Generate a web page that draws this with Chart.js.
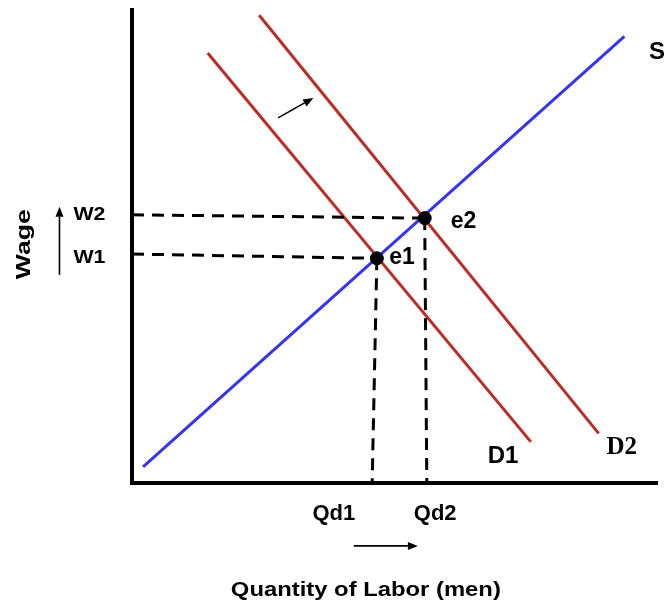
<!DOCTYPE html>
<html>
<head>
<meta charset="utf-8">
<script src="https://cdn.jsdelivr.net/npm/chart.js@4.4.0/dist/chart.umd.min.js"></script>
<style>
  html, body { margin: 0; padding: 0; background: #fff; }
  #wrap { width: 665px; height: 606px; }
</style>
</head>
<body>
<div id="wrap"><canvas id="labor"></canvas></div>
<script>
// curves, in chart units (0-100 on both axes)
const supplyX = [2.1, 93.7];
const supplyY = [3.4, 94.4];
const demand1X = [14.4, 75.9];
const demand1Y = [90.9, 8.7];
const demand2X = [24.2, 88.8];
const demand2Y = [98.9, 10.5];

// equilibrium points
const eqNames = ['e1', 'e2'];
const eqX = [46.6, 55.7];
const eqY = [47.5, 56.0];

// where the dashed guides meet the axes
const wageLineY = [48.4, 56.7];
const qtyLineX = [45.7, 56.1];

// axis labels
const wageTicks = ['W1', 'W2'];
const qtyTicks = ['Qd1', 'Qd2'];

const blue = '#3434f2';
const red = '#bd2b27';
const sans = '"Liberation Sans", Arial, sans-serif';

const pts = (xs, ys) => xs.map((x, i) => ({ x: x, y: ys[i] }));

const datasets = [];
wageLineY.forEach((wy, i) => {
  datasets.push({ data: [{ x: 0, y: wy }, { x: eqX[i], y: eqY[i] }], borderDash: [12, 8] });
  datasets.push({ data: [{ x: eqX[i], y: eqY[i] }, { x: qtyLineX[i], y: 0 }], borderDash: [12, 8] });
});
datasets.forEach(d => {
  d.showLine = true; d.borderColor = '#000'; d.borderWidth = 3; d.pointRadius = 0; d.fill = false;
});
datasets.push({ label: 'S', data: pts(supplyX, supplyY), showLine: true, borderColor: blue, borderWidth: 3, pointRadius: 0 });
datasets.push({ label: 'D1', data: pts(demand1X, demand1Y), showLine: true, borderColor: red, borderWidth: 3, pointRadius: 0 });
datasets.push({ label: 'D2', data: pts(demand2X, demand2Y), showLine: true, borderColor: red, borderWidth: 3, pointRadius: 0 });
datasets.push({
  label: 'eq', data: pts(eqX, eqY), showLine: false, order: -1,
  pointRadius: 6.5, pointBackgroundColor: '#000', pointBorderColor: '#000', pointBorderWidth: 1
});

// text placed in chart units; w = width to stretch the word to
const notes = [
  { text: wageTicks[1], x: -8.1, y: 56.7, font: 'bold 18px ' + sans, w: 32 },
  { text: wageTicks[0], x: -8.1, y: 47.6, font: 'bold 18px ' + sans, w: 32 },
  { text: 'Wage', x: -20.5, y: 50.5, font: 'bold 21px ' + sans, w: 70, rot: true },
  { text: qtyTicks[0], x: 38.4, y: -6.6, font: 'bold 22px ' + sans },
  { text: qtyTicks[1], x: 57.7, y: -6.6, font: 'bold 22px ' + sans },
  { text: 'Quantity of Labor (men)', x: 44.5, y: -22.6, font: 'bold 21px ' + sans, w: 270 },
  { text: eqNames[0], x: 51.4, y: 47.6, font: 'bold 23px ' + sans },
  { text: eqNames[1], x: 63.1, y: 55.3, font: 'bold 23px ' + sans },
  { text: 'D1', x: 70.6, y: 5.7, font: 'bold 24px ' + sans },
  { text: 'D2', x: 93.2, y: 7.6, font: 'bold 25px "Liberation Serif", "Times New Roman", serif' },
  { text: 'S', x: 99.9, y: 91.1, font: 'bold 24px ' + sans }
];

const arrows = [
  { from: [-13.8, 44.0], to: [-13.8, 58.4] },
  { from: [27.8, 77.2], to: [34.5, 81.4] },
  { from: [42.2, -13.3], to: [54.4, -13.3] }
];

const notesPlugin = {
  id: 'notes',
  afterDraw(chart) {
    const ctx = chart.ctx;
    const xs = chart.scales.x, ys = chart.scales.y;
    ctx.save();
    ctx.fillStyle = '#000';
    ctx.textAlign = 'center';
    ctx.textBaseline = 'middle';
    notes.forEach(n => {
      const px = xs.getPixelForValue(n.x), py = ys.getPixelForValue(n.y);
      ctx.font = n.font;
      const mw = ctx.measureText(n.text).width;
      const sx = n.w ? n.w / mw : 1;
      ctx.save();
      ctx.translate(px, py);
      if (n.rot) ctx.rotate(-Math.PI / 2);
      ctx.scale(sx, 1);
      ctx.fillText(n.text, 0, 0);
      ctx.restore();
    });
    ctx.strokeStyle = '#000';
    ctx.lineWidth = 1.6;
    arrows.forEach(a => {
      const x1 = xs.getPixelForValue(a.from[0]), y1 = ys.getPixelForValue(a.from[1]);
      const x2 = xs.getPixelForValue(a.to[0]), y2 = ys.getPixelForValue(a.to[1]);
      const ang = Math.atan2(y2 - y1, x2 - x1);
      const hl = 10, hw = 4;
      const bx = x2 - hl * Math.cos(ang), by = y2 - hl * Math.sin(ang);
      ctx.beginPath();
      ctx.moveTo(x1, y1);
      ctx.lineTo(bx, by);
      ctx.stroke();
      ctx.beginPath();
      ctx.moveTo(x2, y2);
      ctx.lineTo(bx + hw * Math.sin(ang), by - hw * Math.cos(ang));
      ctx.lineTo(bx - hw * Math.sin(ang), by + hw * Math.cos(ang));
      ctx.closePath();
      ctx.fill();
    });
    ctx.restore();
  }
};

const axis = {
  type: 'linear',
  min: 0,
  max: 100,
  grid: { display: false, drawTicks: false },
  ticks: { display: false },
  border: { display: true, color: '#000', width: 4 }
};

new Chart(document.getElementById('labor'), {
  type: 'scatter',
  data: { datasets: datasets },
  options: {
    responsive: true,
    maintainAspectRatio: false,
    animation: false,
    layout: { padding: { left: 132, top: 10, right: 5, bottom: 123 } },
    plugins: { legend: { display: false }, tooltip: { enabled: false } },
    scales: { x: { ...axis, position: 'bottom' }, y: { ...axis, position: 'left' } }
  },
  plugins: [notesPlugin]
});
</script>
</body>
</html>
